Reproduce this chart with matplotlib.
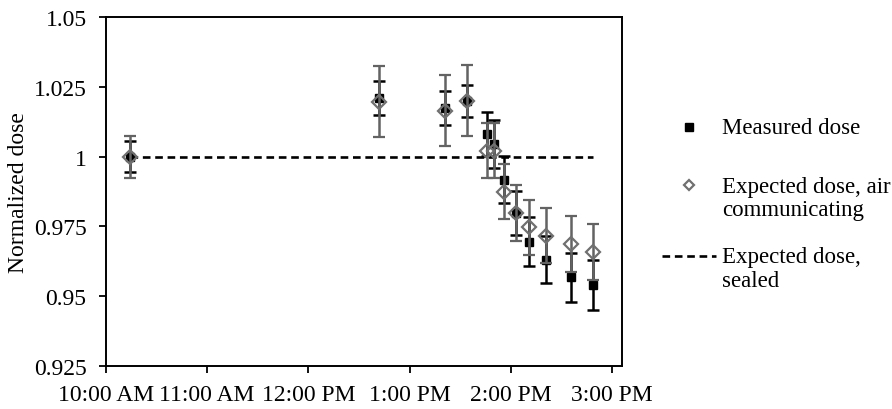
import datetime
import numpy as np
import matplotlib
matplotlib.use('Agg')
import matplotlib.pyplot as plt
import matplotlib.dates as mdates
from matplotlib.lines import Line2D

plt.rcParams['font.family'] = ['Liberation Serif', 'DejaVu Serif']
plt.rcParams['font.size'] = 17
plt.rcParams['lines.scale_dashes'] = False

# readings (clock time) and normalized dose
times = ['10:14', '12:42', '13:21', '13:34', '13:46', '13:50',
         '13:56', '14:03', '14:11', '14:21', '14:36', '14:49']
measured = [1.000, 1.021, 1.0174, 1.020, 1.0081, 1.0045,
            0.9917, 0.9798, 0.9695, 0.9631, 0.9568, 0.954]
measured_err = [0.0055, 0.006, 0.006, 0.0057, 0.008, 0.0085,
                0.0084, 0.008, 0.0087, 0.0085, 0.0088, 0.0088]
expected_air = [1.000, 1.0196, 1.0164, 1.020, 1.0021, 1.0021,
                0.9874, 0.9798, 0.9747, 0.9717, 0.9687, 0.9657]
expected_air_err = [0.0075, 0.0127, 0.0127, 0.0127, 0.0099, 0.0099,
                    0.0098, 0.0099, 0.0099, 0.0099, 0.010, 0.010]
sealed_times = ['10:14', '14:49']
sealed = [1.0, 1.0]

yticks = [0.925, 0.95, 0.975, 1.0, 1.025, 1.05]
ytick_labels = ['0.925', '0.95', '0.975', '1', '1.025', '1.05']
legend_labels = ['Measured dose', 'Expected dose, air\ncommunicating', 'Expected dose,\nsealed']

day = datetime.date(2000, 1, 1)
def to_dt(s):
    t = datetime.datetime.strptime(s, '%H:%M').time()
    return datetime.datetime.combine(day, t)

t = [to_dt(s) for s in times]
ts = [to_dt(s) for s in sealed_times]

W, H = 892, 410
fig = plt.figure(figsize=(W / 100, H / 100), dpi=100)
ax = fig.add_axes([106 / W, 1 - 367 / H, (622 - 106) / W, (367 - 18) / H])

ax.plot(ts, sealed, color='black', lw=1.9, dashes=(5.5, 3.4), zorder=2)

ax.errorbar(t, measured, yerr=measured_err, fmt='s', color='black',
            ms=5.5, ecolor='black', elinewidth=1.8, capsize=4, capthick=1.8, zorder=3)
ax.errorbar(t, expected_air, yerr=expected_air_err, fmt='D', ms=7,
            mfc='none', mec='#707070', mew=1.6, ecolor='#636363',
            elinewidth=1.8, capsize=4, capthick=1.8, zorder=4)

ax.set_ylim(0.925, 1.05)
ax.set_yticks(yticks)
ax.set_yticklabels(ytick_labels)
ax.set_xlim(to_dt('10:00'), to_dt('15:06'))
ax.xaxis.set_major_locator(mdates.HourLocator())
ax.xaxis.set_major_formatter(plt.FuncFormatter(
    lambda x, pos: mdates.num2date(x).strftime('%I:%M %p').lstrip('0')))
ax.tick_params(axis='both', direction='out', length=5, width=1.3, labelsize=17)
ax.tick_params(axis='y', pad=9)
ax.tick_params(axis='x', pad=8)
for sp in ax.spines.values():
    sp.set_linewidth(1.4)
ax.set_ylabel('Normalized dose', fontsize=17)
ax.yaxis.set_label_coords(-0.15, 0.5)

# legend drawn by hand so symbols sit on the first text line
def fy(y):
    return 1 - y / H
fig.add_artist(Line2D([689 / W], [fy(128)], marker='s', color='black', ms=5.5,
                      transform=fig.transFigure))
fig.add_artist(Line2D([689 / W], [fy(186)], marker='D', ms=5.5, mfc='none',
                      mec='#707070', mew=1.6, transform=fig.transFigure))
fig.add_artist(Line2D([662 / W, 716 / W], [fy(257), fy(257)], color='black', lw=1.9,
                      dashes=(5.5, 3.4), transform=fig.transFigure))
rows = [[129], [188, 211], [258, 282]]
for lab, ys in zip(legend_labels, rows):
    for line, y in zip(lab.split('\n'), ys):
        fig.text(722 / W, fy(y), line, fontsize=16.5, va='center', ha='left')

fig.savefig('out.png', dpi=100)
